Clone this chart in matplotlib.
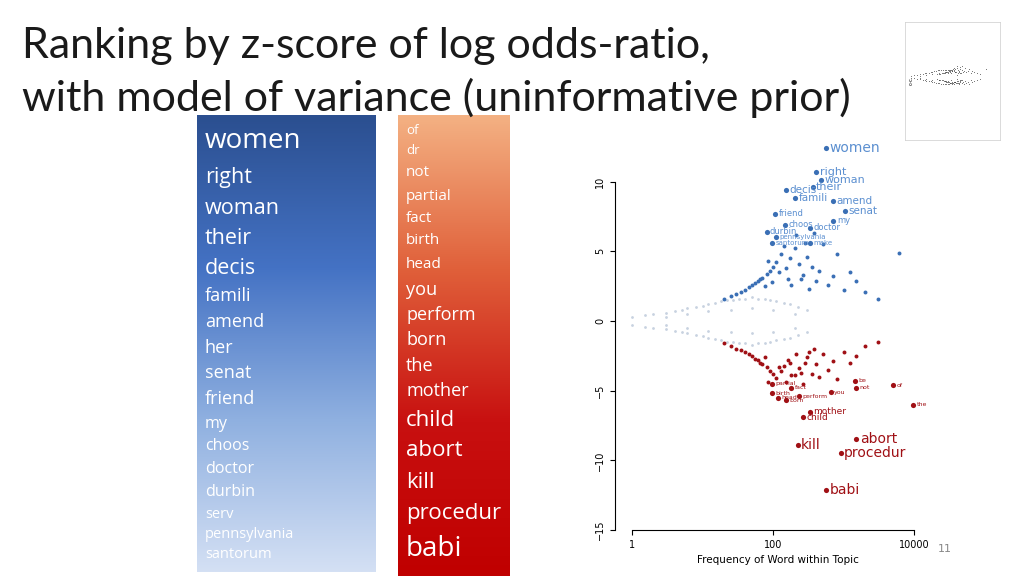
import matplotlib
matplotlib.use("Agg")
import matplotlib.pyplot as plt
import numpy as np
from matplotlib.colors import LinearSegmentedColormap
from matplotlib.ticker import NullLocator

title_lines = ["Ranking by z-score of log odds-ratio,", "with model of variance (uninformative prior)"]

left_words = ["women","right","woman","their","decis","famili","amend","her","senat","friend","my",
              "choos","doctor","durbin","serv","pennsylvania","santorum"]
left_sizes = [20,15.5,15.5,15.5,15.5,13,13,13,13,13,11.5,11.5,11.5,11.5,10.5,10.5,10.5]
left_y = [141,177,208,238,269,296,322,348,373,399,424,446,469,492,514,535,555]

right_words = ["of","dr","not","partial","fact","birth","head","you","perform","born","the","mother",
               "child","abort","kill","procedur","babi"]
right_sizes = [9.5,9.5,11,11,11,11,11,13,13,13,13,13,16,16,16,16,20]
right_y = [130,151,173,196,218,241,264,290,315,340,366,391,420,451,482,513,549]

# labelled points (frequency, z-score)
pos_labels = ["women","right","woman","their","decis","famili","amend","senat","friend","my","choos",
              "doctor","durbin","pennsylvania","santorum","make"]
pos_x = [560,405,470,360,153,205,690,1050,107,710,148,335,80,110,95,330]
pos_y = [12.4,10.7,10.1,9.6,9.4,8.8,8.6,7.9,7.7,7.2,6.9,6.7,6.4,6.0,5.6,5.6]
neg_labels = ["be","of","not","partial","fact","birth","head","you","perform","born","the","mother",
              "child","abort","kill","procedur","babi"]
neg_x = [1450,5000,1500,95,180,95,115,650,230,150,9500,330,260,1500,220,900,560]
neg_y = [-4.3,-4.6,-4.8,-4.5,-4.8,-5.2,-5.5,-5.1,-5.4,-5.7,-6.0,-6.5,-6.9,-8.5,-8.9,-9.5,-12.1]

# unlabelled blue points
blue_x = [20,25,30,35,40,45,50,55,60,65,70,80,90,100,110,120,130,150,170,200,230,260,300,350,400,450,
          500,600,700,800,1000,1200,1500,2000,3000,6000,75,85,95,140,160,180,210,250,280,320,380]
blue_y = [1.6,1.8,1.9,2.1,2.2,2.4,2.6,2.7,2.9,3.0,3.1,3.4,3.6,3.9,4.2,3.5,4.8,3.8,4.5,5.2,4.1,3.3,4.6,
          3.9,2.9,3.6,5.5,2.6,3.2,4.8,2.2,3.5,2.9,2.1,1.6,4.9,2.5,4.3,2.8,5.4,3.0,2.6,6.2,3.0,5.6,2.3,6.3]
# unlabelled red points
red_x = [20,25,30,35,40,45,50,55,60,65,70,80,90,100,110,120,130,150,170,200,230,260,300,350,400,450,
         500,600,700,800,1000,1200,1500,2000,3000,75,85,140,160,180,210,250,280,320,380]
red_y = [-1.6,-1.8,-2.0,-2.1,-2.2,-2.4,-2.5,-2.7,-2.8,-3.0,-3.1,-3.3,-3.6,-3.8,-4.1,-3.3,-3.6,-4.4,-3.0,
         -3.9,-3.4,-4.5,-2.6,-3.8,-3.1,-4.0,-2.4,-3.5,-2.9,-4.2,-2.2,-3.0,-2.5,-1.8,-1.5,-2.6,-4.4,-3.2,
         -2.8,-3.9,-2.4,-3.7,-3.0,-2.2,-2.0]
# light funnel near zero
grey_x = [1,1.5,2,3,4,5,6,8,10,12,15,18,22,27,33,40,50,60,75,90,110,140,170,220,300,
          1,1.5,2,3,4,5,6,8,10,12,15,18,22,27,33,40,50,60,75,90,110,140,170,220,300,
          3,6,12,25,50,100,200, 3,6,12,25,50,100,200]
grey_y = [0.3,0.4,0.5,0.6,0.7,0.8,0.9,1.0,1.1,1.2,1.3,1.4,1.5,1.5,1.6,1.6,1.7,1.6,1.6,1.5,1.4,1.3,1.2,1.0,0.8,
          -0.3,-0.4,-0.5,-0.6,-0.7,-0.8,-0.9,-1.0,-1.1,-1.2,-1.3,-1.4,-1.5,-1.5,-1.6,-1.6,-1.7,-1.6,-1.6,-1.5,
          -1.4,-1.3,-1.2,-1.0,-0.8,
          0.3,0.5,0.7,0.8,0.9,0.8,0.5, -0.3,-0.5,-0.7,-0.8,-0.9,-0.8,-0.5]

W, H = 1024, 576
fig = plt.figure(figsize=(W/100, H/100), dpi=100)
bg = fig.add_axes([0, 0, 1, 1])
bg.set_xlim(0, W); bg.set_ylim(H, 0); bg.axis("off")

for i, t in enumerate(title_lines):
    bg.text(22, 46 + i*52, t, fontsize=31, family="Lato", va="center", ha="left", color="#1a1a1a")

grad = np.linspace(0, 1, 256).reshape(-1, 1)
bcmap = LinearSegmentedColormap.from_list("b", ["#2b4f90", "#4472c4", "#8fb0e0", "#d4e0f4"])
rcmap = LinearSegmentedColormap.from_list("r", ["#f4b183", "#e0603a", "#c81010", "#c00000"])
bg.imshow(grad, cmap=bcmap, extent=(197, 376, 572, 115), aspect="auto")
bg.imshow(grad, cmap=rcmap, extent=(398, 510, 576, 115), aspect="auto")
bg.set_xlim(0, W); bg.set_ylim(H, 0)

for w, s, y in zip(left_words, left_sizes, left_y):
    bg.text(205, y, w, fontsize=s, family="Open Sans", color="white", va="center")
for w, s, y in zip(right_words, right_sizes, right_y):
    bg.text(406, y, w, fontsize=s, family="Open Sans", color="white", va="center")
bg.text(938, 549, "11", fontsize=8, color="#888888", va="center")

ax = fig.add_axes([615/W, 1-530/H, (940-615)/W, (530-130)/H])
ax.set_xscale("log")
ax.set_xlim(0.57, 23000)
ax.set_ylim(-15, 13.7)
ax.scatter(grey_x, grey_y, s=4, color="#c8d2e0", lw=0)
ax.scatter(blue_x, blue_y, s=8, color="#3a6fb5", lw=0)
ax.scatter(red_x, red_y, s=8, color="#a01015", lw=0)
ax.scatter(pos_x, pos_y, s=14, color="#3a6fb5", lw=0)
ax.scatter(neg_x, neg_y, s=14, color="#a01015", lw=0)
for i, (l, x, y) in enumerate(zip(pos_labels, pos_x, pos_y)):
    fs = 10 if i == 0 else (8 if i < 4 else (7.5 if i < 8 else (6 if i < 13 else 5)))
    ax.text(x*1.12, y, l, fontsize=fs, color="#5b8fd0", va="center")
for i, (l, x, y) in enumerate(zip(neg_labels, neg_x, neg_y)):
    fs = 10 if i >= 13 else (6.5 if i >= 11 else 4.5)
    ax.text(x*1.12, y, l, fontsize=fs, color="#a01015", va="center")
ax.set_xticks([1, 100, 10000]); ax.set_xticklabels(["1", "100", "10000"], fontsize=7)
ax.set_yticks([-15, -10, -5, 0, 5, 10])
ax.set_yticklabels(["−15", "−10", "−5", "0", "5", "10"], fontsize=7, rotation=90, va="center")
ax.minorticks_off()
for s in ["top", "right"]:
    ax.spines[s].set_visible(False)
ax.spines["left"].set_bounds(-15, 10)
ax.spines["bottom"].set_bounds(1, 10000)
ax.set_xlabel("Frequency of Word within Topic", fontsize=7.5)
ax.patch.set_alpha(0)

# thumbnail
th = fig.add_axes([905/W, 1-140/H, 95/W, 118/H])
th.set_xscale("log"); th.set_xlim(0.5, 30000); th.set_ylim(-15, 13)
th.xaxis.set_major_locator(NullLocator()); th.xaxis.set_minor_locator(NullLocator())
th.yaxis.set_major_locator(NullLocator())
for s in th.spines.values():
    s.set_color("#cccccc"); s.set_linewidth(0.5)
th.scatter(grey_x + blue_x + red_x, grey_y + [v*0.4 for v in blue_y] + [v*0.4 for v in red_y], s=0.3, color="#444444", lw=0)
th.text(0.04, 0.5, "c-c", fontsize=4, rotation=90, transform=th.transAxes, va="center")

fig.savefig("out.png", dpi=100)
